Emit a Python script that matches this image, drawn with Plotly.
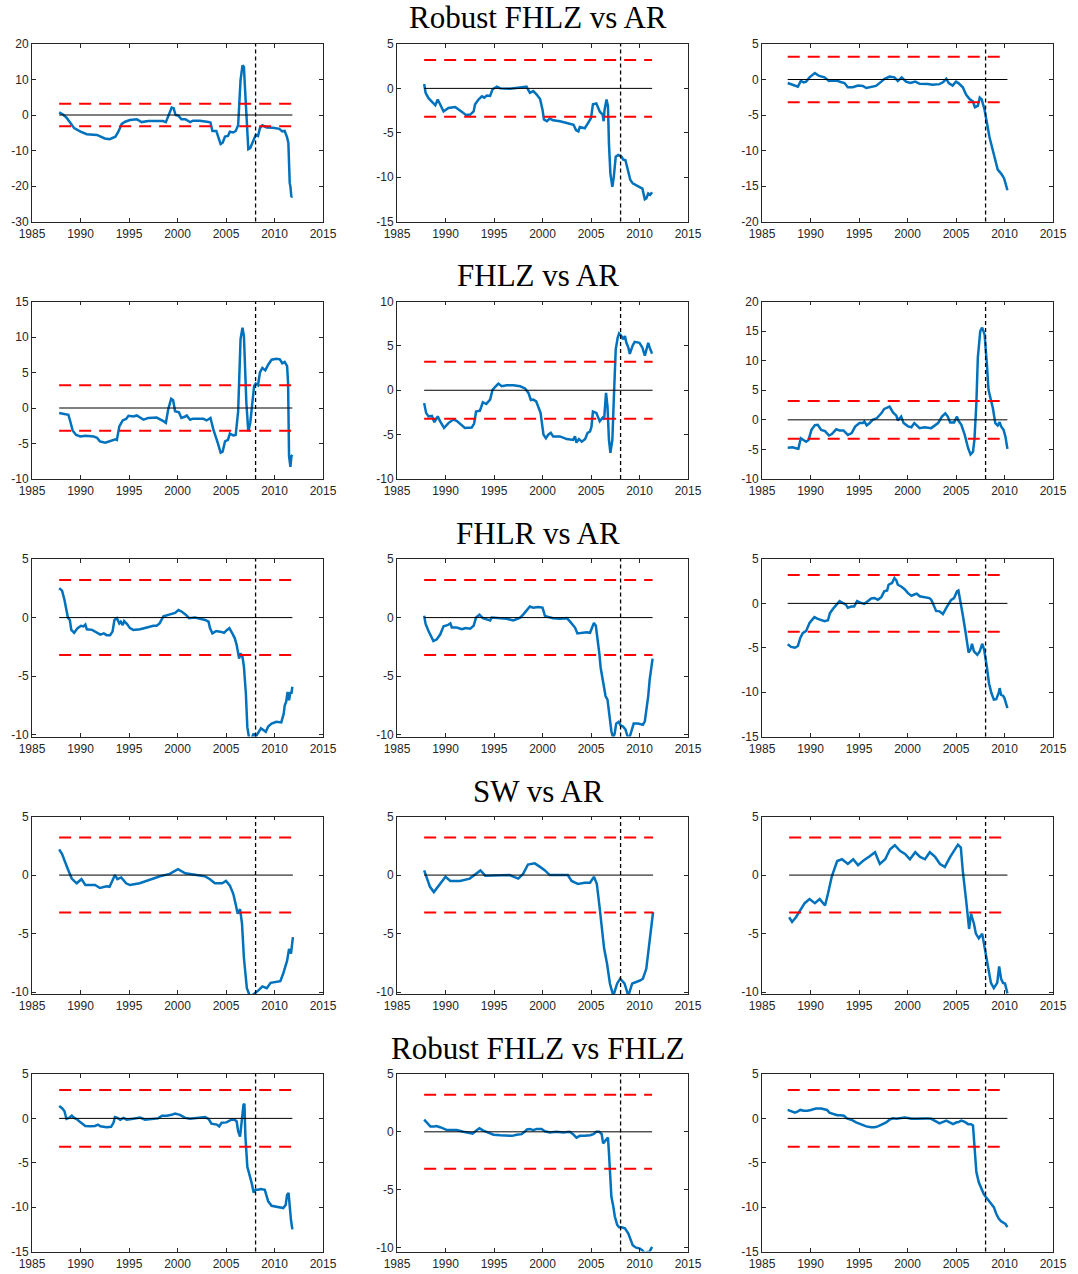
import plotly.graph_objects as go

# ---------------------------------------------------------------
# Rolling test statistics, (year, value) pairs, one list per panel
# ---------------------------------------------------------------
rob_ar_1 = [(1987.8, 0.75), (1988.26, 0), (1988.6, -0.9), (1988.9, -1.9), (1989.35, -3.7), (1990.0, -4.7),
            (1990.65, -5.4), (1991.7, -5.6), (1992.0, -5.9), (1992.5, -6.6), (1993.0, -6.8), (1993.6, -6.1),
            (1993.9, -4.7), (1994.25, -2.5), (1994.6, -1.9), (1995.1, -1.4), (1995.8, -1.2), (1996.3, -2.0),
            (1997.0, -1.7), (1997.85, -1.6), (1998.5, -1.7), (1998.8, -2.0), (1999.05, -0.5), (1999.4, 2.1),
            (1999.6, 1.9), (1999.8, 0), (2000.1, -0.2), (2000.4, -1.2), (2000.8, -1.2), (2001.3, -2.0),
            (2001.6, -1.6), (2002.3, -1.6), (2003.2, -2.0), (2003.4, -2.1), (2003.6, -4.5), (2004.0, -4.5),
            (2004.3, -7.0), (2004.45, -8.2), (2004.65, -7.8), (2004.9, -6.1), (2005.2, -5.9), (2005.4, -4.7),
            (2005.75, -4.9), (2006.0, -4.5), (2006.25, -2.9), (2006.5, 9.8), (2006.7, 14.0), (2006.85, 13.5),
            (2006.95, 8.0), (2007.2, -7.0), (2007.3, -9.6), (2007.5, -9.3), (2007.8, -7.5), (2008.07, -5.6),
            (2008.3, -5.9), (2008.5, -3.7), (2008.75, -2.9), (2009.2, -3.5), (2009.85, -3.6), (2010.5, -3.9),
            (2010.8, -4.6), (2011.05, -4.5), (2011.3, -6.3), (2011.43, -7.9), (2011.57, -19.2), (2011.64, -20.1),
            (2011.74, -23.1), (2011.84, -22.9)]

rob_ar_2 = [(1987.8, 0.5), (1987.95, -0.5), (1988.25, -1.1), (1988.6, -1.5), (1988.95, -1.9), (1989.2, -1.25),
            (1989.45, -1.8), (1989.8, -2.6), (1990.3, -2.2), (1991.0, -2.1), (1991.7, -2.65), (1992.1, -3.0),
            (1992.55, -2.95), (1992.9, -2.6), (1993.05, -1.8), (1993.4, -1.25), (1993.75, -0.9), (1994.0, -1.05),
            (1994.25, -0.8), (1994.6, -0.85), (1994.85, -0.1), (1995.3, 0.2), (1995.65, 0), (1996.65, -0.05),
            (1997.7, 0.1), (1998.35, 0.2), (1998.7, -0.5), (1999.05, -0.3), (1999.4, -0.7), (1999.75, -1.2),
            (2000.0, -2.4), (2000.15, -3.5), (2000.45, -3.7), (2000.75, -3.4), (2001.1, -3.6), (2001.8, -3.7),
            (2002.5, -3.9), (2003.2, -4.1), (2003.45, -4.7), (2003.7, -4.85), (2003.85, -4.35), (2004.35, -4.5),
            (2004.7, -3.9), (2005.0, -3.35), (2005.2, -1.8), (2005.55, -1.7), (2005.9, -2.6), (2006.2, -2.95),
            (2006.3, -3.7), (2006.4, -2.4), (2006.6, -1.25), (2006.75, -2.0), (2006.85, -6.2), (2007.0, -9.6),
            (2007.2, -11.1), (2007.35, -10.0), (2007.55, -7.7), (2007.8, -7.5), (2008.15, -7.7), (2008.3, -8.0),
            (2008.55, -8.1), (2008.8, -9.2), (2009.05, -10.3), (2009.3, -10.7), (2010.0, -11.1), (2010.3, -11.3),
            (2010.55, -12.5), (2010.7, -12.4), (2010.9, -11.85), (2011.1, -12.0), (2011.3, -11.7)]

rob_ar_3 = [(1987.65, -0.5), (1988.15, -0.75), (1988.7, -1.0), (1989.0, -0.2), (1989.3, -0.4), (1989.55, -0.3),
            (1989.9, 0.3), (1990.45, 0.9), (1990.9, 0.5), (1991.45, 0.3), (1991.9, -0.2), (1992.3, -0.15),
            (1992.8, -0.2), (1993.1, -0.35), (1993.5, -0.5), (1993.85, -1.1), (1994.35, -1.1), (1994.9, -0.85),
            (1995.4, -0.9), (1995.75, -1.2), (1996.25, -1.1), (1996.75, -0.9), (1997.3, -0.3), (1997.6, 0.05),
            (1998.15, 0.4), (1998.65, 0.3), (1999.0, -0.2), (1999.4, 0.3), (1999.85, -0.3), (2000.3, -0.5),
            (2000.8, -0.3), (2001.25, -0.6), (2002.1, -0.65), (2002.6, -0.75), (2003.3, -0.65), (2003.65, -0.4),
            (2004.0, 0.1), (2004.25, -0.5), (2004.65, -0.85), (2005.0, -0.3), (2005.25, -0.5), (2005.7, -1.1),
            (2006.05, -2.15), (2006.4, -2.75), (2006.75, -3.1), (2006.95, -3.9), (2007.25, -3.7), (2007.45, -2.55),
            (2007.65, -2.8), (2007.95, -4.3), (2008.2, -6.2), (2008.45, -8.1), (2008.8, -10.0), (2009.1, -11.4),
            (2009.3, -12.7), (2009.65, -13.25), (2009.95, -13.9), (2010.1, -14.6), (2010.3, -15.6)]

fhlz_ar_1 = [(1987.8, -0.7), (1988.25, -0.85), (1988.75, -0.95), (1988.95, -1.9), (1989.2, -3.2), (1989.55, -3.8),
             (1990.0, -4.0), (1990.5, -3.9), (1991.35, -4.0), (1991.7, -4.2), (1992.0, -4.7), (1992.55, -4.9),
             (1993.05, -4.7), (1993.6, -4.4), (1993.75, -4.5), (1994.0, -2.6), (1994.35, -1.75), (1994.7, -1.55),
             (1994.95, -1.1), (1995.45, -1.2), (1995.8, -1.05), (1996.5, -1.65), (1997.0, -1.4), (1997.85, -1.35),
             (1998.55, -1.85), (1998.8, -2.1), (1999.05, -0.15), (1999.35, 1.3), (1999.55, 1.1), (1999.75, -0.45),
             (2000.15, -0.6), (2000.4, -1.4), (2000.8, -1.2), (2000.95, -1.05), (2001.3, -1.65), (2001.6, -1.5),
             (2002.65, -1.5), (2003.0, -1.75), (2003.4, -1.4), (2003.7, -3.05), (2004.1, -4.7), (2004.45, -6.3),
             (2004.65, -6.15), (2004.9, -4.7), (2005.2, -4.5), (2005.4, -3.6), (2005.75, -3.85), (2006.0, -3.8),
             (2006.25, -0.5), (2006.5, 9.7), (2006.7, 11.3), (2006.85, 10.1), (2007.1, 0.7), (2007.3, -3.3),
             (2007.5, -2.1), (2007.75, 0.7), (2007.9, 3.1), (2008.07, 3.45), (2008.3, 3.2), (2008.5, 5.0),
             (2008.75, 5.65), (2009.05, 5.3), (2009.35, 6.1), (2009.7, 6.8), (2010.2, 6.95), (2010.55, 6.85),
             (2010.8, 6.3), (2011.05, 6.5), (2011.3, 5.9), (2011.4, 3.5), (2011.5, -6.8), (2011.64, -8.3),
             (2011.74, -6.8), (2011.84, -6.6)]

fhlz_ar_2 = [(1987.8, -1.45), (1988.0, -2.55), (1988.25, -2.95), (1988.6, -2.9), (1988.85, -3.6), (1989.2, -2.95),
             (1989.45, -3.5), (1989.85, -4.25), (1990.3, -3.7), (1990.8, -3.3), (1991.15, -3.45), (1991.7, -3.9),
             (1992.0, -4.25), (1992.7, -4.2), (1992.95, -3.75), (1993.15, -2.4), (1993.55, -2.3), (1993.85, -1.35),
             (1994.2, -1.55), (1994.6, -1.05), (1994.85, 0.05), (1995.1, 0.35), (1995.45, 0.75), (1995.8, 0.45),
             (1996.3, 0.55), (1997.0, 0.55), (1997.7, 0.45), (1998.2, 0.2), (1998.55, -0.3), (1998.8, -1.1),
             (1999.05, -1.05), (1999.35, -1.25), (1999.65, -2.0), (1999.8, -2.55), (2000.1, -5.0), (2000.35, -5.4),
             (2000.6, -5.0), (2000.85, -4.8), (2001.1, -5.2), (2001.8, -5.2), (2002.5, -5.5), (2003.15, -5.6),
             (2003.35, -5.2), (2003.5, -5.9), (2003.75, -5.5), (2004.05, -5.8), (2004.4, -5.5), (2004.65, -4.8),
             (2004.9, -4.65), (2005.05, -4.1), (2005.2, -2.4), (2005.55, -2.55), (2005.9, -3.5), (2006.2, -3.1),
             (2006.35, -3.3), (2006.55, -0.3), (2006.7, -1.8), (2006.85, -5.6), (2007.0, -7.05), (2007.2, -5.6),
             (2007.35, -1.05), (2007.55, 4.6), (2007.75, 5.9), (2007.9, 6.4), (2008.15, 6.1), (2008.3, 5.75),
             (2008.5, 6.1), (2008.65, 5.35), (2008.85, 4.8), (2009.0, 4.1), (2009.3, 5.05), (2009.5, 5.45),
             (2010.0, 5.35), (2010.3, 4.8), (2010.55, 3.9), (2010.7, 4.6), (2010.9, 5.35), (2011.05, 4.8),
             (2011.25, 4.25), (2011.35, 4.3)]

fhlz_ar_3 = [(1987.65, -4.7), (1988.15, -4.65), (1988.5, -4.8), (1988.75, -4.9), (1989.0, -3.1), (1989.3, -3.4),
             (1989.55, -3.7), (1989.8, -3.4), (1990.1, -1.7), (1990.45, -0.9), (1990.75, -0.85), (1991.1, -1.7),
             (1991.5, -1.9), (1991.9, -2.65), (1992.2, -2.4), (1992.65, -1.6), (1993.0, -1.8), (1993.4, -1.8),
             (1993.85, -2.55), (1994.25, -2.25), (1994.6, -1.15), (1995.05, -0.55), (1995.4, -0.55), (1995.55, -0.3),
             (1995.8, -0.95), (1996.1, -0.55), (1996.4, 0), (1996.85, 0.3), (1997.3, 1.1), (1997.6, 1.85),
             (1998.15, 2.25), (1998.5, 1.25), (1998.85, 0.7), (1999.0, -0.1), (1999.35, 0.55), (1999.6, -0.55),
             (2000.05, -1.1), (2000.4, -1.25), (2000.7, -0.55), (2001.25, -1.4), (2001.75, -1.25), (2002.45, -1.4),
             (2002.85, -1.0), (2003.15, -0.55), (2003.55, 0.55), (2003.9, 1.1), (2004.15, 0.55), (2004.4, -0.45),
             (2004.8, -0.45), (2005.1, 0.55), (2005.25, -0.15), (2005.55, -0.85), (2005.9, -2.55), (2006.25, -4.8),
             (2006.5, -5.85), (2006.75, -5.4), (2006.9, -3.4), (2007.1, 2.8), (2007.25, 10.5), (2007.5, 15.0),
             (2007.7, 15.6), (2007.95, 14.4), (2008.2, 9.05), (2008.35, 5.1), (2008.55, 3.7), (2008.8, 2.0),
             (2009.05, -0.55), (2009.3, -0.95), (2009.5, -0.4), (2009.65, -1.1), (2009.9, -1.7), (2010.1, -2.85),
             (2010.3, -4.9)]

fhlr_ar_1 = [(1987.8, 2.5), (1988.1, 2.3), (1988.35, 1.5), (1988.55, 0.65), (1988.7, 0), (1988.9, -0.2),
             (1989.05, -1.05), (1989.35, -1.3), (1989.7, -0.9), (1990.05, -0.7), (1990.3, -0.75), (1990.5, -0.6),
             (1990.65, -1.0), (1991.2, -1.05), (1991.7, -1.3), (1992.05, -1.45), (1992.4, -1.35), (1992.7, -1.5),
             (1993.05, -1.5), (1993.3, -1.2), (1993.5, -0.2), (1993.75, -0.05), (1994.0, -0.5), (1994.15, -0.35),
             (1994.35, -0.65), (1994.5, -0.3), (1994.8, -0.55), (1995.1, -0.9), (1995.45, -1.05), (1996.15, -1.0),
             (1996.85, -0.85), (1997.5, -0.7), (1997.85, -0.7), (1998.15, -0.5), (1998.55, 0.1), (1999.25, 0.25),
             (1999.75, 0.4), (2000.1, 0.65), (2000.45, 0.5), (2000.85, 0.25), (2001.2, -0.05), (2001.8, 0),
             (2002.3, -0.1), (2002.85, -0.2), (2003.2, -0.35), (2003.35, -0.9), (2003.6, -1.35), (2004.0, -1.15),
             (2004.4, -1.2), (2004.8, -1.3), (2005.1, -1.05), (2005.35, -0.9), (2005.65, -1.35), (2005.9, -1.75),
             (2006.1, -2.35), (2006.25, -2.9), (2006.35, -3.5), (2006.5, -3.05), (2006.7, -3.35), (2006.85, -4.2),
             (2007.05, -6.5), (2007.2, -9.35), (2007.4, -10.4), (2007.6, -10.4), (2007.85, -9.9), (2008.05, -10.2),
             (2008.3, -9.9), (2008.6, -9.45), (2008.85, -9.6), (2009.1, -9.75), (2009.35, -9.3), (2009.7, -9.05),
             (2010.2, -8.9), (2010.7, -8.95), (2010.95, -8.2), (2011.05, -7.5), (2011.2, -7.2), (2011.35, -6.35),
             (2011.5, -7.05), (2011.64, -6.35), (2011.74, -6.5), (2011.84, -5.9)]

fhlr_ar_2 = [(1987.8, 0.15), (1987.95, -0.55), (1988.25, -1.15), (1988.5, -1.55), (1988.75, -2.0), (1989.1, -1.85),
             (1989.45, -1.45), (1989.8, -0.75), (1990.2, -0.65), (1990.5, -0.5), (1990.65, -0.85), (1991.15, -0.85),
             (1991.7, -1.0), (1992.05, -0.9), (1992.55, -0.95), (1992.9, -0.7), (1993.15, 0), (1993.5, 0.25),
             (1993.85, -0.05), (1994.25, -0.15), (1994.6, -0.25), (1994.75, 0), (1995.6, -0.05), (1996.3, -0.1),
             (1997.0, -0.25), (1997.7, 0), (1998.05, 0.3), (1998.4, 0.65), (1998.7, 0.95), (1999.05, 0.85),
             (1999.55, 0.9), (2000.0, 0.85), (2000.25, 0.15), (2000.6, 0.05), (2001.1, -0.05), (2001.8, -0.1),
             (2002.5, -0.05), (2002.8, -0.3), (2003.1, -0.65), (2003.35, -0.85), (2003.6, -1.35), (2004.0, -1.3),
             (2004.55, -1.25), (2004.9, -1.3), (2005.05, -0.95), (2005.3, -0.45), (2005.5, -0.7), (2005.65, -1.55),
             (2005.85, -3.0), (2006.0, -4.3), (2006.2, -5.3), (2006.35, -6.3), (2006.5, -6.7), (2006.7, -7.0),
             (2006.85, -8.15), (2007.1, -9.7), (2007.3, -10.3), (2007.45, -9.85), (2007.6, -9.05), (2007.85, -8.9),
             (2008.05, -9.2), (2008.3, -9.3), (2008.55, -9.55), (2008.75, -10.1), (2008.95, -10.3), (2009.2, -9.6),
             (2009.4, -9.05), (2009.85, -9.05), (2010.35, -9.15), (2010.55, -8.85), (2010.7, -8.0), (2010.9, -6.7),
             (2011.05, -5.3), (2011.25, -4.15), (2011.35, -3.5)]

fhlr_ar_3 = [(1987.65, -4.6), (1988.0, -4.9), (1988.4, -5.0), (1988.7, -4.8), (1988.95, -3.9), (1989.2, -3.35),
             (1989.55, -3.1), (1989.9, -2.2), (1990.25, -1.75), (1990.4, -1.55), (1990.75, -1.75), (1991.1, -1.9),
             (1991.45, -2.0), (1991.8, -1.9), (1992.0, -1.1), (1992.4, -0.5), (1992.7, -0.15), (1993.0, 0.25),
             (1993.3, 0.05), (1993.65, -0.15), (1993.85, -0.5), (1994.2, -0.35), (1994.5, -0.35), (1994.8, 0.25),
             (1995.2, 0.05), (1995.55, -0.05), (1995.9, 0.25), (1996.25, 0.55), (1996.6, 0.6), (1996.95, 0.4),
             (1997.3, 0.7), (1997.6, 1.35), (1997.9, 1.45), (1998.05, 2.1), (1998.4, 2.3), (1998.65, 2.85),
             (1998.85, 2.6), (1999.0, 2.1), (1999.35, 1.9), (1999.7, 1.6), (2000.05, 1.15), (2000.4, 0.85),
             (2000.7, 1.0), (2000.95, 1.1), (2001.25, 0.8), (2001.75, 0.7), (2002.25, 0.6), (2002.45, 0.4),
             (2002.7, -0.35), (2002.95, -0.85), (2003.3, -0.9), (2003.65, -1.2), (2004.0, -0.5), (2004.35, 0.05),
             (2004.5, 0.4), (2004.8, 0.6), (2004.9, 0.8), (2005.1, 1.35), (2005.25, 1.45), (2005.45, 0.4),
             (2005.7, -1.3), (2005.95, -3.0), (2006.15, -4.4), (2006.3, -5.55), (2006.5, -5.2), (2006.65, -4.55),
             (2006.85, -5.4), (2007.2, -5.8), (2007.45, -5.4), (2007.7, -4.55), (2007.9, -5.2), (2008.05, -6.15),
             (2008.2, -7.3), (2008.4, -9.0), (2008.65, -10.1), (2008.9, -10.85), (2009.15, -10.8), (2009.4, -10.1),
             (2009.5, -9.55), (2009.65, -10.3), (2009.85, -10.4), (2010.0, -10.7), (2010.2, -11.4), (2010.3, -11.8)]

sw_ar_1 = [(1987.8, 2.2), (1988.1, 1.8), (1988.7, 0.5), (1989.1, -0.3), (1989.6, -0.7), (1990.1, -0.35),
           (1990.5, -0.85), (1991.5, -0.85), (1992.0, -1.1), (1992.7, -0.95), (1993.0, -1.0), (1993.55, 0),
           (1993.8, -0.35), (1994.2, -0.2), (1994.7, -0.7), (1995.1, -0.85), (1996.1, -0.7), (1997.2, -0.35),
           (1998.2, -0.1), (1999.2, 0.1), (2000.05, 0.5), (2000.8, 0.15), (2001.8, 0), (2002.8, -0.1),
           (2003.35, -0.35), (2003.85, -0.7), (2004.6, -0.7), (2005.0, -0.5), (2005.4, -0.9), (2005.75, -1.6),
           (2006.0, -2.5), (2006.2, -3.3), (2006.45, -2.9), (2006.65, -4.15), (2006.85, -7.1), (2007.15, -9.65),
           (2007.5, -10.4), (2008.0, -10.1), (2008.4, -9.8), (2008.75, -9.5), (2009.2, -9.65), (2009.6, -9.2),
           (2010.6, -9.05), (2010.9, -8.4), (2011.3, -7.3), (2011.5, -6.3), (2011.7, -6.7), (2011.9, -5.3)]

sw_ar_2 = [(1987.8, 0.4), (1988.1, -0.3), (1988.4, -1.0), (1988.8, -1.45), (1989.2, -1.0), (1989.65, -0.5),
           (1990.0, -0.15), (1990.5, -0.5), (1991.5, -0.5), (1992.5, -0.3), (1993.0, 0.05), (1993.6, 0.4),
           (1994.1, -0.05), (1995.6, -0.05), (1996.6, 0), (1997.5, -0.3), (1998.0, 0.1), (1998.5, 0.9),
           (1999.2, 1.0), (1999.75, 0.7), (2000.25, 0.4), (2000.75, 0), (2001.8, 0), (2002.6, 0),
           (2003.0, -0.5), (2003.65, -0.75), (2004.35, -0.65), (2004.9, -0.65), (2005.3, -0.15), (2005.6, -0.75),
           (2005.9, -2.85), (2006.35, -6.25), (2006.65, -7.55), (2006.95, -9.25), (2007.3, -10.3), (2007.7, -9.25),
           (2008.0, -8.85), (2008.45, -9.25), (2008.85, -10.3), (2009.25, -9.25), (2010.05, -9.0), (2010.35, -8.85),
           (2010.7, -8.0), (2011.0, -5.85), (2011.2, -4.6), (2011.4, -3.15)]

sw_ar_3 = [(1987.8, -3.6), (1988.1, -4.0), (1988.5, -3.6), (1988.9, -3.05), (1989.4, -2.4), (1989.9, -2.05),
           (1990.45, -2.4), (1990.95, -2.05), (1991.5, -2.6), (1991.8, -1.6), (1992.2, -0.1), (1992.75, 1.2),
           (1993.25, 1.35), (1993.85, 0.95), (1994.4, 1.35), (1994.9, 0.85), (1995.4, 1.2), (1996.1, 1.6),
           (1996.65, 1.95), (1997.15, 0.95), (1997.7, 1.35), (1998.2, 2.2), (1998.7, 2.55), (1999.25, 2.05),
           (1999.75, 1.8), (2000.25, 1.35), (2000.8, 1.95), (2001.3, 1.55), (2001.8, 1.35), (2002.3, 1.95),
           (2002.85, 1.55), (2003.35, 0.95), (2003.85, 0.7), (2004.4, 1.55), (2004.9, 2.2), (2005.2, 2.6),
           (2005.5, 2.35), (2005.7, 0.35), (2006.05, -2.2), (2006.35, -4.6), (2006.55, -3.3), (2006.85, -4.15),
           (2007.05, -5.0), (2007.35, -5.4), (2007.7, -5.0), (2008.0, -6.4), (2008.3, -7.8), (2008.6, -9.2),
           (2008.9, -9.65), (2009.25, -9.2), (2009.45, -7.8), (2009.65, -8.85), (2009.85, -9.2), (2010.05, -9.25),
           (2010.3, -10.1)]

rob_fhlz_1 = [(1987.8, 1.4), (1988.1, 1.15), (1988.35, 0.8), (1988.55, -0.05), (1988.8, 0.05), (1989.1, 0.3),
              (1989.35, 0.05), (1989.7, -0.15), (1990.0, -0.45), (1990.5, -0.85), (1991.0, -0.9), (1991.5, -0.85),
              (1991.8, -0.7), (1992.05, -0.9), (1992.7, -1.0), (1993.15, -0.95), (1993.4, -0.5), (1993.55, 0.15),
              (1993.8, 0.05), (1994.1, -0.15), (1994.45, 0.05), (1994.75, -0.15), (1995.45, -0.05), (1996.15, 0.1),
              (1996.65, -0.15), (1997.5, -0.05), (1998.0, 0), (1998.4, 0.3), (1998.9, 0.3), (1999.4, 0.4),
              (1999.75, 0.55), (2000.25, 0.4), (2000.8, 0.05), (2001.3, -0.05), (2002.0, 0.05), (2002.85, 0.15),
              (2003.2, -0.05), (2003.5, -0.6), (2004.05, -0.7), (2004.3, -0.9), (2004.55, -0.5), (2005.05, -0.45),
              (2005.55, -0.15), (2005.9, -0.15), (2006.1, -0.35), (2006.25, -1.45), (2006.45, -2.05), (2006.6, -0.55),
              (2006.8, 1.5), (2006.9, 1.65), (2007.0, -2.05), (2007.2, -5.45), (2007.4, -6.2), (2007.65, -7.3),
              (2007.85, -8.35), (2008.05, -8.05), (2008.3, -8.05), (2008.6, -7.95), (2009.0, -8.05), (2009.35, -9.35),
              (2009.7, -9.85), (2010.2, -9.95), (2010.55, -10.1), (2010.9, -10.1), (2011.15, -9.75), (2011.3, -8.6),
              (2011.45, -8.4), (2011.55, -9.75), (2011.7, -11.45), (2011.84, -12.5)]

rob_fhlz_2 = [(1987.8, 1.05), (1988.1, 0.75), (1988.45, 0.45), (1988.8, 0.45), (1989.05, 0.5), (1989.45, 0.4),
              (1989.8, 0.3), (1990.15, 0.15), (1990.65, 0.15), (1991.15, 0.15), (1991.85, 0), (1992.35, -0.1),
              (1992.8, -0.15), (1993.25, 0.15), (1993.5, 0.3), (1993.9, 0.1), (1994.45, -0.05), (1994.95, -0.25),
              (1995.65, -0.3), (1996.3, -0.3), (1996.85, -0.35), (1997.35, -0.25), (1997.85, -0.2), (1998.15, 0),
              (1998.4, 0.2), (1998.7, 0.25), (1999.05, 0.15), (1999.4, 0.25), (1999.9, 0.25), (2000.25, 0.05),
              (2000.75, -0.05), (2001.45, 0), (2002.15, -0.05), (2002.8, 0), (2003.15, -0.2), (2003.5, -0.5),
              (2003.85, -0.35), (2004.35, -0.35), (2004.9, -0.3), (2005.25, -0.2), (2005.55, 0), (2005.85, 0),
              (2006.1, -0.2), (2006.25, -1.0), (2006.45, -0.8), (2006.6, -0.55), (2006.75, -0.5), (2006.85, -1.8),
              (2007.0, -3.85), (2007.1, -5.6), (2007.3, -6.45), (2007.45, -7.3), (2007.7, -8.05), (2007.9, -8.25),
              (2008.15, -8.25), (2008.5, -8.35), (2008.85, -8.8), (2009.0, -9.2), (2009.3, -9.8), (2009.6, -10.0),
              (2010.05, -10.1), (2010.3, -10.25), (2010.55, -10.5), (2010.8, -10.4), (2011.0, -10.4), (2011.2, -10.1),
              (2011.3, -9.95)]

rob_fhlz_3 = [(1987.65, 0.95), (1988.0, 0.85), (1988.4, 0.65), (1988.7, 0.8), (1988.95, 0.95), (1989.3, 0.85),
              (1989.7, 0.85), (1990.05, 0.95), (1990.55, 1.1), (1991.1, 1.1), (1991.45, 1.05), (1991.7, 0.95),
              (1991.95, 0.65), (1992.3, 0.55), (1992.75, 0.35), (1993.1, 0.35), (1993.45, 0.3), (1993.75, 0),
              (1994.2, -0.15), (1994.7, -0.45), (1995.2, -0.7), (1995.75, -0.9), (1996.25, -1.0), (1996.6, -1.0),
              (1996.95, -0.9), (1997.45, -0.65), (1997.8, -0.45), (1998.15, -0.15), (1998.5, 0), (1998.85, -0.05),
              (1999.2, 0), (1999.7, 0.1), (2000.05, 0.05), (2000.4, -0.05), (2000.9, -0.05), (2001.4, 0),
              (2001.95, 0), (2002.45, -0.05), (2002.95, -0.4), (2003.3, -0.55), (2003.55, -0.45), (2004.0, -0.25),
              (2004.35, -0.45), (2004.7, -0.65), (2005.05, -0.45), (2005.2, -0.45), (2005.55, -0.25), (2005.9, -0.4),
              (2006.25, -0.65), (2006.55, -0.65), (2006.75, -0.8), (2006.85, -2.3), (2007.0, -4.95), (2007.1, -6.05),
              (2007.35, -7.2), (2007.6, -7.95), (2007.85, -8.5), (2008.1, -8.9), (2008.35, -9.25), (2008.65, -9.65),
              (2008.9, -10.0), (2009.15, -10.75), (2009.4, -11.3), (2009.65, -11.6), (2009.85, -11.7), (2010.1, -11.9),
              (2010.3, -12.25)]

row_titles = ["Robust FHLZ vs AR", "FHLZ vs AR", "FHLR vs AR", "SW vs AR", "Robust FHLZ vs FHLZ"]
panels = [
    [rob_ar_1, rob_ar_2, rob_ar_3],
    [fhlz_ar_1, fhlz_ar_2, fhlz_ar_3],
    [fhlr_ar_1, fhlr_ar_2, fhlr_ar_3],
    [sw_ar_1, sw_ar_2, sw_ar_3],
    [rob_fhlz_1, rob_fhlz_2, rob_fhlz_3],
]
crit_value = 3.2          # critical value of the test, drawn at +/-
break_year = 2008.05      # vertical reference date
x_ticks = [1985, 1990, 1995, 2000, 2005, 2010, 2015]

# y-axis (low, high, step) for each panel
y_axes = [
    [(-30, 20, 10), (-15, 5, 5), (-20, 5, 5)],
    [(-10, 15, 5), (-10, 10, 5), (-10, 20, 5)],
    [(-10.15, 5, 5), (-10.15, 5, 5), (-15, 5, 5)],
    [(-10.15, 5, 5), (-10.15, 5, 5), (-10.15, 5, 5)],
    [(-15, 5, 5), (-10.35, 5, 5), (-15, 5, 5)],
]

# ---------------------------------------------------------------
# Page geometry (pixels)
# ---------------------------------------------------------------
W, H = 1078, 1274
col_px = [(32, 323), (397, 688), (762, 1053)]
row_top_px = [44, 301.5, 559, 816.5, 1074]
plot_h = 177.5
title_y_px = [18, 275, 533, 791, 1048]

AX_COLOR = "#262626"
BLUE = "#0072BD"
TICK_FONT = dict(family="Liberation Sans, Arial, sans-serif", size=12, color=AX_COLOR)

fig = go.Figure()
layout = dict(
    width=W, height=H,
    margin=dict(l=0, r=0, t=0, b=0, autoexpand=False),
    paper_bgcolor="white", plot_bgcolor="white",
    showlegend=False,
    shapes=[], annotations=[],
)

for r in range(5):
    for c in range(3):
        k = r * 3 + c + 1
        xa = "x" if k == 1 else f"x{k}"
        ya = "y" if k == 1 else f"y{k}"
        series = panels[r][c]
        t = [p[0] for p in series]
        v = [p[1] for p in series]
        t0, t1 = t[0], t[-1]

        fig.add_trace(go.Scatter(x=t, y=v, mode="lines", xaxis=xa, yaxis=ya,
                                 line=dict(color=BLUE, width=2.5), hoverinfo="skip"))
        fig.add_trace(go.Scatter(x=[t0, t1], y=[0, 0], mode="lines", xaxis=xa, yaxis=ya,
                                 line=dict(color="black", width=1), hoverinfo="skip"))
        for s in (1, -1):
            fig.add_trace(go.Scatter(x=[t0, t1], y=[s * crit_value] * 2, mode="lines",
                                     xaxis=xa, yaxis=ya,
                                     line=dict(color="#FF0000", width=2, dash="12px,8px"),
                                     hoverinfo="skip"))

        lo, hi, step = y_axes[r][c]
        first = step * int(-(-lo // step))
        ticks = []
        val = first
        while val <= hi + 1e-9:
            ticks.append(val)
            val += step

        x0p, x1p = col_px[c]
        top = row_top_px[r]
        bot = top + plot_h
        xkey = "xaxis" if k == 1 else f"xaxis{k}"
        ykey = "yaxis" if k == 1 else f"yaxis{k}"
        layout[xkey] = dict(
            domain=[x0p / W, x1p / W], anchor=ya, range=[1985, 2015], automargin=False,
            tickvals=x_ticks, ticks="inside", ticklen=4, tickwidth=0.8, tickcolor=AX_COLOR,
            showline=True, linecolor=AX_COLOR, linewidth=0.8, mirror="ticks",
            showgrid=False, zeroline=False, tickfont=TICK_FONT, ticklabelstandoff=1,
        )
        layout[ykey] = dict(
            domain=[1 - bot / H, 1 - top / H], anchor=xa, range=[lo, hi], automargin=False,
            tickvals=ticks, ticktext=[f"{int(tv)}" for tv in ticks],
            ticks="inside", ticklen=4, tickwidth=0.8, tickcolor=AX_COLOR,
            showline=True, linecolor=AX_COLOR, linewidth=0.8, mirror="ticks",
            showgrid=False, zeroline=False, tickfont=TICK_FONT,
        )
        layout["shapes"].append(dict(
            type="line", xref=xa, yref=f"{ya} domain", x0=break_year, x1=break_year, y0=0, y1=1,
            line=dict(color="black", width=1.3, dash="4px,3px"), layer="above",
        ))

    layout["annotations"].append(dict(
        text=row_titles[r], xref="paper", yref="paper", x=538 / W, y=1 - title_y_px[r] / H,
        xanchor="center", yanchor="middle", showarrow=False,
        font=dict(family="Liberation Serif, Times New Roman, serif", size=31, color="black"),
    ))

fig.update_layout(**layout)
fig.write_html("out.html")
